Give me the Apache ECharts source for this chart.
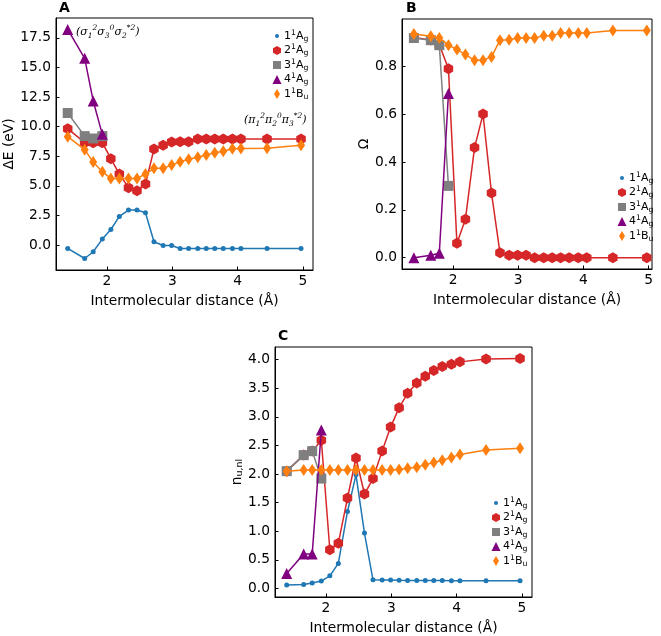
<!DOCTYPE html>
<html>
<head>
<meta charset="utf-8">
<script src="https://cdn.jsdelivr.net/npm/echarts@6/dist/echarts.min.js"></script>
<style>html,body{margin:0;padding:0;background:#fff;}#c{width:661px;height:636px;}</style>
</head>
<body>
<div id="c"></div>
<script>
// ---- data ----
const dist = [1.40,1.66,1.79,1.93,2.06,2.19,2.33,2.46,2.59,2.72,2.86,2.99,3.12,3.25,3.39,3.52,3.65,3.78,3.92,4.05,4.45,4.97];
const distShort = [1.40,1.66,1.79,1.93];

// Panel A: excitation energy (eV)
const A_1Ag = [-0.28,-1.13,-0.56,0.51,1.32,2.42,2.96,2.96,2.73,0.28,-0.03,-0.03,-0.28,-0.28,-0.28,-0.28,-0.28,-0.28,-0.28,-0.28,-0.28,-0.28];
const A_2Ag = [9.83,8.65,8.65,8.65,7.30,6.00,4.85,4.59,5.15,8.11,8.42,8.70,8.72,8.72,8.96,8.96,8.96,8.96,8.96,8.96,8.96,8.96];
const A_3Ag = [11.15,9.20,9.00,9.20];
const A_4Ag = [18.20,15.77,12.17,9.35];
const A_1Bu = [9.15,8.06,7.01,6.20,5.63,5.63,5.63,5.63,6.00,6.48,6.48,6.76,7.04,7.24,7.41,7.61,7.80,7.92,8.13,8.15,8.17,8.42];

// Panel B: Omega
const B_1Ag = [];
const B_2Ag = [0.92,0.91,0.89,0.79,0.06,0.16,0.46,0.60,0.27,0.02,0.01,0.01,0.01,0,0,0,0,0,0,0,0,0];
const B_3Ag = [0.918,0.909,0.888,0.30];
const B_4Ag = [0.0,0.01,0.018,0.686];
const B_1Bu = [0.935,0.925,0.918,0.888,0.870,0.849,0.825,0.825,0.839,0.909,0.911,0.918,0.918,0.918,0.928,0.928,0.939,0.939,0.939,0.939,0.949,0.949];

// Panel C: n_u,nl
const C_1Ag = [0.058,0.07,0.093,0.128,0.22,0.437,1.345,1.985,0.967,0.151,0.145,0.145,0.142,0.14,0.14,0.14,0.138,0.138,0.136,0.136,0.135,0.134];
const C_2Ag = [2.05,2.33,2.40,2.59,0.675,0.79,1.58,2.28,1.65,1.92,2.40,2.82,3.16,3.41,3.59,3.71,3.81,3.88,3.92,3.96,4.01,4.02];
const C_3Ag = [2.05,2.33,2.40,1.92];
const C_4Ag = [0.26,0.60,0.60,2.77];
const C_1Bu = [2.05,2.07,2.07,2.07,2.07,2.07,2.07,2.07,2.07,2.07,2.07,2.07,2.08,2.10,2.12,2.16,2.20,2.24,2.29,2.34,2.42,2.45];

// labels
const stateNum = ['1','2','3','4','1'];
const stateSym = ['A','A','A','A','B'];
const stateSub = ['g','g','g','g','u'];
const xTicks = [2,3,4,5];
const yTicksA = [0,2.5,5,7.5,10,12.5,15,17.5];
const yTicksB = [0,0.2,0.4,0.6,0.8];
const yTicksC = [0,0.5,1,1.5,2,2.5,3,3.5,4];

// ---- styles ----
const colors = ['#1f77b4','#d62728','#7f7f7f','#800080','#ff7f0e'];
const HEX = 'path://M5,0L9.33,2.5L9.33,7.5L5,10L0.67,7.5L0.67,2.5Z';
const symbols = ['circle', HEX, 'rect', 'triangle', 'diamond'];
const symSizes = [5, 11, 10, 11, [8,12]];
const legendIcons = [
  'path://M0,0M10,10M3,5a2,2 0 1,0 4,0a2,2 0 1,0 -4,0z',
  'path://M0,0M10,10M5,0.5L9,2.75L9,7.25L5,9.5L1,7.25L1,2.75Z',
  'path://M0,0M10,10M1,1H9V9H1Z',
  'path://M0,0M10,10M5,0.5L9.5,9.5L0.5,9.5Z',
  'path://M0,0M10,10M5,0L8,5L5,10L2,5Z'
];
const FONT = 'DejaVu Sans';
const FS = 13.8;

function zip(xs, ys){ return ys.map((y,i)=>[xs[i], y]); }

const panels = [
  {key:'A', sets:[A_1Ag,A_2Ag,A_3Ag,A_4Ag,A_1Bu], grid:{left:56, top:18, width:257, height:252},
   y:{min:-2.1, max:19.17, ticks:yTicksA, name:'ΔE (eV)', gap:37}, x:{min:1.221, max:5.153},
   legend:{left:267, top:24}},
  {key:'B', sets:[B_1Ag,B_2Ag,B_3Ag,B_4Ag,B_1Bu], grid:{left:402, top:19, width:250, height:250},
   y:{min:-0.0475, max:0.9975, ticks:yTicksB, name:'Ω', gap:31}, x:{min:1.218, max:5.05},
   legend:{left:612, top:166}},
  {key:'C', sets:[C_1Ag,C_2Ag,C_3Ag,C_4Ag,C_1Bu], grid:{left:275, top:347, width:257, height:251},
   y:{min:-0.15, max:4.22, ticks:yTicksC, name:'n{s|u,nl}', gap:30}, x:{min:1.221, max:5.153},
   legend:{left:486, top:491}}
];

const grids = [], xAxes = [], yAxes = [], series = [], legends = [];
panels.forEach((p, pi) => {
  grids.push(Object.assign({show:true, borderColor:'#000', borderWidth:1, backgroundColor:'transparent'}, p.grid));
  xAxes.push({
    type:'value', gridIndex:pi, min:p.x.min, max:p.x.max,
    name:'Intermolecular distance (Å)', nameLocation:'middle', nameGap:24,
    nameTextStyle:{fontFamily:FONT, fontSize:FS, color:'#000'},
    axisLine:{show:true, onZero:false, lineStyle:{color:'#000', width:1}},
    axisTick:{show:true, inside:true, length:3.5, customValues:xTicks, lineStyle:{color:'#000'}},
    axisLabel:{show:true, margin:4, customValues:xTicks, fontFamily:FONT, fontSize:FS, color:'#000', formatter:v=>String(Math.round(v))},
    splitLine:{show:false}
  });
  yAxes.push({
    type:'value', gridIndex:pi, min:p.y.min, max:p.y.max,
    name:p.y.name, nameLocation:'middle', nameGap:p.y.gap, nameRotate:90,
    nameTextStyle:{fontFamily:FONT, fontSize:FS, color:'#000', rich:{s:{fontFamily:FONT, fontSize:9.5, verticalAlign:'bottom', lineHeight:8}}},
    axisLine:{show:true, onZero:false, lineStyle:{color:'#000', width:1}},
    axisTick:{show:true, inside:true, length:3.5, customValues:p.y.ticks, lineStyle:{color:'#000'}},
    axisLabel:{show:true, margin:5, customValues:p.y.ticks, fontFamily:FONT, fontSize:FS, color:'#000', formatter:v=>v.toFixed(1)},
    splitLine:{show:false}
  });
  const names = [];
  p.sets.forEach((arr, si) => {
    const name = p.key + si;
    names.push({name:name, icon:legendIcons[si]});
    series.push({
      type:'line', name:name, xAxisIndex:pi, yAxisIndex:pi,
      data: zip(arr.length === 4 ? distShort : dist, arr),
      symbol:symbols[si], symbolSize:symSizes[si], symbolKeepAspect:si===1,
      showSymbol:true, showAllSymbol:true,
      lineStyle:{color:colors[si], width:1.5},
      itemStyle:{color:colors[si], borderWidth:0},
      z: 2 + si, emphasis:{disabled:true}, animation:false
    });
  });
  legends.push({
    orient:'vertical', left:p.legend.left, top:p.legend.top, itemWidth:10, itemHeight:10, itemGap:0.5,
    data:names, selectedMode:false,
    formatter: n => { const i = +n.slice(1); return stateNum[i] + '{p|1}' + stateSym[i] + '{b|' + stateSub[i] + '}'; },
    textStyle:{fontFamily:FONT, fontSize:11, color:'#000', lineHeight:14, padding:[0,0,0,-3],
      rich:{p:{fontFamily:FONT, fontSize:7.7, verticalAlign:'top', lineHeight:8, color:'#000'},
            b:{fontFamily:FONT, fontSize:7.7, verticalAlign:'bottom', lineHeight:7, color:'#000'}}}
  });
});

const serifRich = {
  p:{fontFamily:'DejaVu Serif', fontStyle:'italic', fontSize:7.5, verticalAlign:'top', lineHeight:8, color:'#000'},
  b:{fontFamily:'DejaVu Serif', fontStyle:'italic', fontSize:7.5, verticalAlign:'bottom', lineHeight:6, color:'#000'}
};
const graphics = [
  {type:'text', left:59, top:1, style:{text:'A', fontFamily:FONT, fontWeight:'bold', fontSize:14, fill:'#000'}},
  {type:'text', left:406, top:1, style:{text:'B', fontFamily:FONT, fontWeight:'bold', fontSize:14, fill:'#000'}},
  {type:'text', left:278, top:329, style:{text:'C', fontFamily:FONT, fontWeight:'bold', fontSize:14, fill:'#000'}},
  {type:'text', left:76, top:24, style:{text:'(σ{b|1}{p|2}σ{b|3}{p|0}σ{b|2}{p|*2})', fontFamily:'DejaVu Serif', fontStyle:'italic', fontSize:11, lineHeight:16, fill:'#000', rich:serifRich}},
  {type:'text', left:244, top:112, style:{text:'(π{b|1}{p|2}π{b|2}{p|0}π{b|3}{p|*2})', fontFamily:'DejaVu Serif', fontStyle:'italic', fontSize:11, lineHeight:16, fill:'#000', rich:serifRich}}
];

const chart = echarts.init(document.getElementById('c'), null, {renderer:'canvas'});
chart.setOption({
  animation:false, backgroundColor:'#fff',
  grid:grids, xAxis:xAxes, yAxis:yAxes, series:series, legend:legends, graphic:graphics
});
</script>
</body>
</html>
